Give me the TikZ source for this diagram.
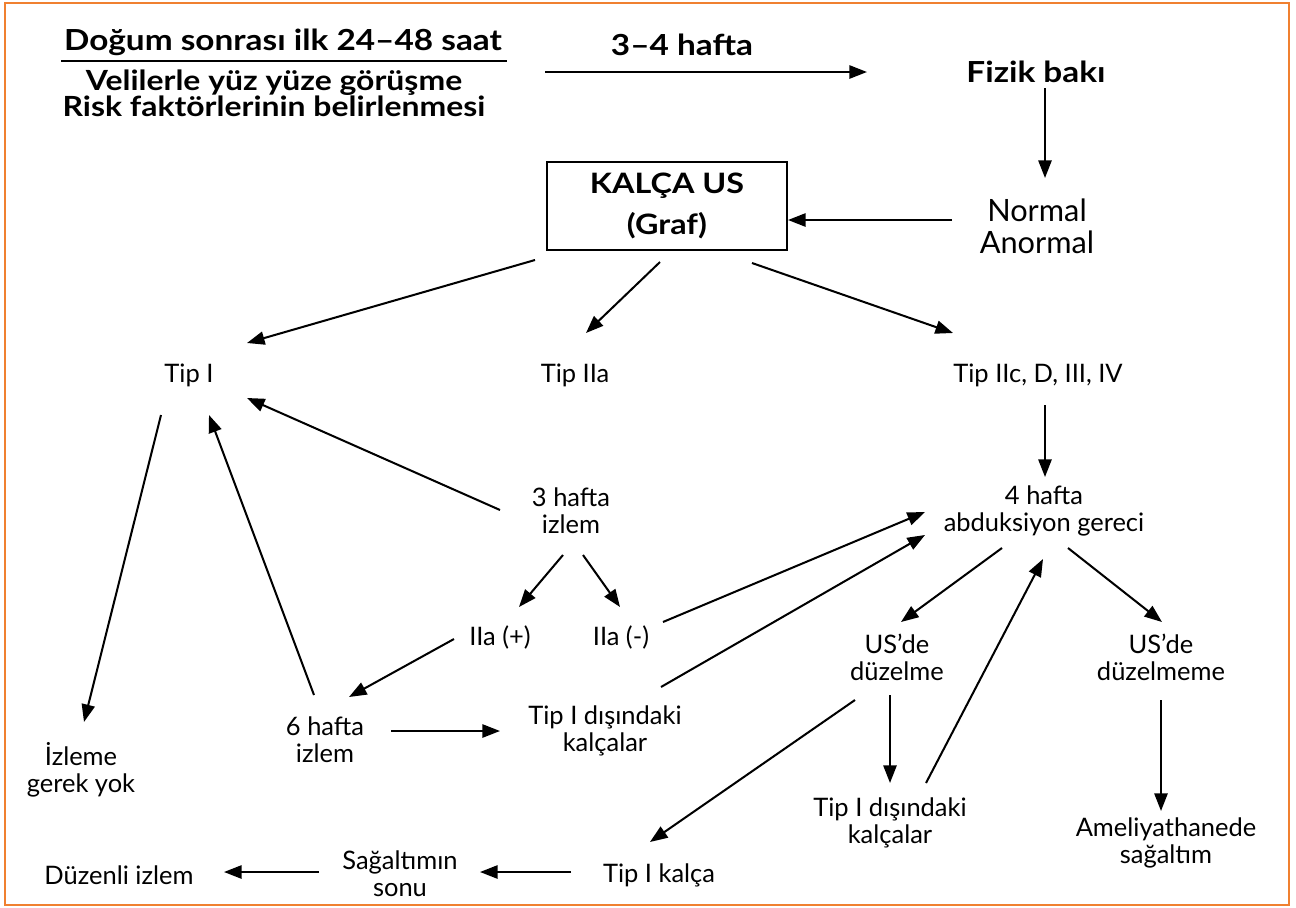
\documentclass[tikz,border=0pt]{standalone}
\usepackage{fontspec}
\setmainfont{Lato}
\newfontfamily\headfont[Ligatures=TeX, FakeStretch=1.15]{Lato}
\usepackage{tikz}
\usetikzlibrary{arrows.meta}

\definecolor{frame}{RGB}{240,128,48}

\begin{document}
\begin{tikzpicture}[x=0.02cm, y=-0.02cm,
  arr/.style={-{Triangle[length=10pt,width=7.5pt]}, line width=1.15pt},
  txt/.style={align=center, inner sep=0pt, font=\fontsize{14.5}{15.5}\selectfont},
  head/.style={align=center, inner sep=0pt, font=\fontsize{16.5}{16}\headfont\bfseries}]

% Frame of the figure
\useasboundingbox (0,0) rectangle (1296,907);
\draw[frame, line width=1.2pt] (5,3) rectangle (1289,905);

% Top row
\node[head] (dogum) at (283,42) {Doğum sonrası ilk 24--48 saat};
\draw[line width=0.9pt] ([shift={(-222,19)}]dogum.center) -- ([shift={(224,19)}]dogum.center);
\node[head, font=\fontsize{15.8}{15}\headfont\bfseries] (veli) at (274,93) {Velilerle yüz yüze görüşme\\Risk faktörlerinin belirlenmesi};
\node[head] (hafta) at (682,45) {3--4 hafta};
\node[head] (fizik) at (1036,72) {Fizik bakı};
\coordinate (go) at (545,72);

% Ultrasound box
\node[txt, font=\fontsize{17.5}{18}\selectfont] (normal) at (1037,226) {Normal\\Anormal};
\node[draw, line width=1.2pt, minimum width=240*0.02cm, minimum height=88*0.02cm,
  head, font=\fontsize{16}{23}\headfont\bfseries] (graf) at (667,206) {KALÇA US\\(Graf)};

% Types
\node[txt] (tipI) at (189,375) {Tip I};
\node[txt] (tipIIa) at (575,375) {Tip IIa};
\node[txt] (tipIIc) at (1038,375) {Tip IIc, D, III, IV};

% Follow-up
\node[txt] (uc) at (571,511) {3 hafta\\izlem};
\node[txt] (abd) at (1044,511) {4 hafta\\abduksiyon gereci};
\node[txt] (iiap) at (500,637) {IIa (+)};
\node[txt] (iiam) at (621,637) {IIa (-)};
\node[txt] (alti) at (325,740) {6 hafta\\izlem};
\node[txt] (disL) at (605,731) {Tip I dışındaki\\kalçalar};
\node[txt] (izleme) at (81,770) {İzleme\\gerek yok};
\node[txt] (usduz) at (897,657) {US’de\\düzelme};
\node[txt] (usduzme) at (1161,657) {US’de\\düzelmeme};
\node[txt] (disR) at (890,823) {Tip I dışındaki\\kalçalar};
\node[txt] (amel) at (1166,843) {Ameliyathanede\\sağaltım};

% Bottom row
\node[txt] (tipIk) at (659,875) {Tip I kalça};
\node[txt] (sonu) at (400,874) {Sağaltımın\\sonu};
\node[txt] (duzenli) at (119,875) {Düzenli izlem};

% Arrows
\draw[arr] (go) -- ([shift={(-169,0)}]fizik.center);
\draw[arr] ([shift={(9,16)}]fizik.center) -- ([shift={(8,-48)}]normal.center);
\draw[arr] ([shift={(-85,-6)}]normal.center) -- ([shift={(121,14)}]graf.center);
\draw[arr] ([shift={(-132,54)}]graf.center) -- ([shift={(58,-32)}]tipI.center);
\draw[arr] ([shift={(-7,56)}]graf.center) -- ([shift={(11,-42)}]tipIIa.center);
\draw[arr] ([shift={(85,57)}]graf.center) -- ([shift={(-85,-42)}]tipIIc.center);
\draw[arr] ([shift={(7,30)}]tipIIc.center) -- ([shift={(1,-34)}]abd.center);
\draw[arr] ([shift={(-71,-1)}]uc.center) -- ([shift={(58,23)}]tipI.center);
\draw[arr] ([shift={(-8,44)}]uc.center) -- ([shift={(19,-30)}]iiap.center);
\draw[arr] ([shift={(12,44)}]uc.center) -- ([shift={(-1,-30)}]iiam.center);
\draw[arr] ([shift={(42,-15)}]iiam.center) -- ([shift={(-119,1)}]abd.center);
\draw[arr] ([shift={(-46,2)}]iiap.center) -- ([shift={(24,-43)}]alti.center);
\draw[arr] ([shift={(-11,-45)}]alti.center) -- ([shift={(20,40)}]tipI.center);
\draw[arr] ([shift={(-28,40)}]tipI.center) -- ([shift={(3,-48)}]izleme.center);
\draw[arr] ([shift={(66,-9)}]alti.center) -- ([shift={(-105,0)}]disL.center);
\draw[arr] ([shift={(56,-44)}]disL.center) -- ([shift={(-119,24)}]abd.center);
\draw[arr] ([shift={(-42,37)}]abd.center) -- ([shift={(4,-35)}]usduz.center);
\draw[arr] ([shift={(24,37)}]abd.center) -- ([shift={(1,-35)}]usduzme.center);
\draw[arr] ([shift={(-7,38)}]usduz.center) -- ([shift={(0,-40)}]disR.center);
\draw[arr] ([shift={(36,-40)}]disR.center) -- ([shift={(-1,48)}]abd.center);
\draw[arr] ([shift={(-42,43)}]usduz.center) -- ([shift={(-9,-33)}]tipIk.center);
\draw[arr] ([shift={(0,43)}]usduzme.center) -- ([shift={(-5,-32)}]amel.center);
\draw[arr] ([shift={(-88,-3)}]tipIk.center) -- ([shift={(80,-2)}]sonu.center);
\draw[arr] ([shift={(-81,-2)}]sonu.center) -- ([shift={(105,-3)}]duzenli.center);

\end{tikzpicture}
\end{document}
